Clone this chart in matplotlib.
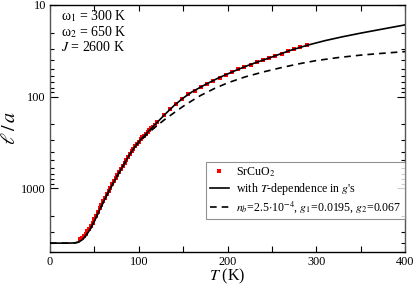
import matplotlib
matplotlib.use("Agg")
import matplotlib.pyplot as plt
from matplotlib.ticker import LogLocator, NullFormatter, MultipleLocator, FixedLocator

plt.rcParams['font.family'] = ['Liberation Serif', 'DejaVu Serif']
plt.rcParams['mathtext.fontset'] = 'stix'

# datos experimentales SrCuO2 (T en K, l/a)
t_exp = [34, 36, 38, 40, 42, 44, 46, 48, 50, 52, 54, 56, 58, 60, 62, 64, 66, 68,
         70, 72, 74, 76, 78, 80, 82, 84, 86, 88, 90, 92, 94, 96, 98, 100, 102, 104,
         106, 108, 110, 112, 114, 116, 118,
         121, 128, 135, 142, 149, 156, 163, 170, 177, 184, 191, 198, 205, 212, 219,
         226, 233, 240, 247, 254, 261, 268, 275, 282, 289]
l_exp = [3580, 3480, 3330, 3160, 2980, 2790, 2600, 2400, 2200, 2010, 1830, 1660, 1520,
         1390, 1275, 1165, 1075, 990, 915, 845, 780, 722, 668, 620, 575, 532, 493, 458,
         426, 398, 371, 347, 327, 311, 294, 280, 267, 255, 244, 233, 223, 213, 204,
         190, 160, 137, 120, 106, 95, 86, 79, 72.5, 67, 62, 57.5, 54, 50.5, 47.5,
         44.8, 42.3, 40, 38.2, 36, 34, 32, 30.5, 29, 27.6]

# curva con dependencia en T de las g's
t_sol = [0, 10, 20, 28, 32, 36, 40, 45, 50, 55, 60, 65, 70, 75, 80, 85, 90, 95,
         100, 110, 120, 130, 140, 150, 160, 175, 190, 210, 225, 250, 270, 290,
         310, 330, 350, 375, 400]
l_sol = [4000, 4000, 4000, 3980, 3900, 3700, 3350, 2850, 2300, 1810, 1430, 1145, 930,
         760, 625, 515, 428, 360, 312, 245, 195, 155, 125, 104, 89, 74, 62.5, 51.5,
         45, 37, 31.5, 27.5, 24.5, 22.2, 20.3, 18.3, 16.5]

# curva con g's constantes
t_dash = [0, 10, 20, 28, 32, 36, 40, 45, 50, 55, 60, 65, 70, 75, 80, 85, 90, 95,
          100, 110, 120, 130, 140, 150, 160, 170, 185, 200, 220, 240, 260, 280, 300,
          325, 350, 375, 400]
l_dash = [4000, 4000, 4000, 3980, 3900, 3700, 3350, 2850, 2300, 1810, 1430, 1145, 930,
          760, 625, 515, 428, 362, 318, 255, 210, 176, 150, 128, 111, 97, 82, 71, 61,
          54, 48.5, 44, 40.5, 37.5, 35.3, 33.7, 32.3]

fig = plt.figure(figsize=(4.15, 2.85), dpi=100)
ax = fig.add_axes([0.1205, 0.1158, 0.8555, 0.8667])

ax.plot(t_exp, l_exp, 's', color='red', markersize=3.3, markeredgewidth=0,
        label='SrCuO$_2$', zorder=2)
ax.plot(t_sol, l_sol, '-', color='black', linewidth=1.2,
        label="with $T$-dependence in $g$'s", zorder=3)
ax.plot(t_dash, l_dash, '--', color='black', linewidth=1.2, dashes=(4, 3),
        label='$n_b$=2.5$\\cdot$10$^{-4}$, $g_1$=0.0195, $g_2$=0.067', zorder=3)

ax.set_yscale('log')
ax.set_ylim(5000, 10)
ax.set_xlim(0, 400)

ax.xaxis.set_major_locator(MultipleLocator(100))
ax.xaxis.set_minor_locator(MultipleLocator(50))
ax.yaxis.set_major_locator(FixedLocator([10, 100, 1000]))
ax.yaxis.set_minor_locator(LogLocator(base=10, subs=range(2, 10)))
ax.yaxis.set_minor_formatter(NullFormatter())
ax.set_yticklabels(['10', '100', '1000'])

ax.tick_params(axis='x', which='both', direction='in', top=True, length=4,
               width=0.8, labelsize=8.8, pad=3)
ax.tick_params(axis='y', which='major', direction='in', right=True, length=6,
               width=0.8, labelsize=8.8, pad=3)
ax.tick_params(axis='y', which='minor', direction='in', right=True, length=3,
               width=0.8)
for s in ['left', 'right']:
    ax.spines[s].set_color('#555555')
for s in ax.spines.values():
    s.set_linewidth(1.0)

ax.set_xlabel('$T$ (K)', fontsize=11.5)
ax.xaxis.set_label_coords(0.5, -0.06)
ax.set_ylabel('$\\ell\\,/\\,a$', fontsize=14.5)
ax.yaxis.set_label_coords(-0.085, 0.5)

ax.text(0.03, 0.953, 'ω$_1$ = 300 K', transform=ax.transAxes, fontsize=10, va='center')
ax.text(0.03, 0.891, 'ω$_2$ = 650 K', transform=ax.transAxes, fontsize=10, va='center')
ax.text(0.03, 0.829, '$J$ = 2600 K', transform=ax.transAxes, fontsize=10, va='center')

leg = ax.legend(loc='lower right', bbox_to_anchor=(1.0, 0.134), borderaxespad=0,
                fontsize=8.6, frameon=True, fancybox=False, handlelength=1.6,
                handletextpad=0.6, borderpad=0.3, labelspacing=0.2)
leg.get_frame().set_edgecolor('#777777')
leg.get_frame().set_linewidth(0.8)

fig.savefig('out.png', dpi=100)
